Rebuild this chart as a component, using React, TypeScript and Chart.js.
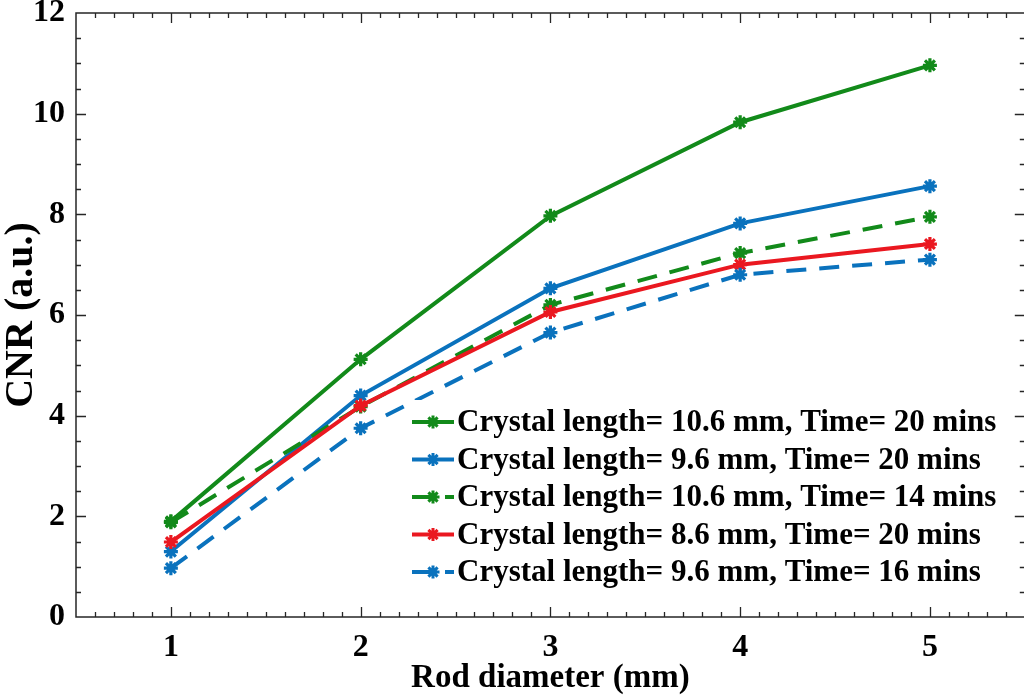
import React, { useEffect, useRef } from "react";
import { Chart, registerables } from "chart.js";

Chart.register(...registerables);

// ---- data ----
const rodDiameter = [1, 2, 3, 4, 5];
const cnrLen106Time20 = [1.9, 5.12, 7.97, 9.83, 10.96];
const cnrLen96Time20 = [1.3, 4.4, 6.53, 7.82, 8.56];
const cnrLen106Time14 = [1.88, 4.18, 6.2, 7.23, 7.95];
const cnrLen86Time20 = [1.49, 4.2, 6.06, 7.0, 7.41];
const cnrLen96Time16 = [0.97, 3.75, 5.65, 6.8, 7.1];

const seriesLabels = [
  "Crystal length= 10.6 mm, Time= 20 mins",
  "Crystal length= 9.6 mm, Time= 20 mins",
  "Crystal length= 10.6 mm, Time= 14 mins",
  "Crystal length= 8.6 mm, Time= 20 mins",
  "Crystal length= 9.6 mm, Time= 16 mins",
];
const seriesValues = [cnrLen106Time20, cnrLen96Time20, cnrLen106Time14, cnrLen86Time20, cnrLen96Time16];

const xTickValues = [1, 2, 3, 4, 5];
const yTickValues = [0, 2, 4, 6, 8, 10, 12];
const xTitle = "Rod diameter (mm)";
const yTitle = "CNR (a.u.)";

// ---- styles ----
const GREEN = "#128a1a";
const BLUE = "#0a72bd";
const RED = "#ea1820";
const seriesColors = [GREEN, BLUE, GREEN, RED, BLUE];
const DASH = [20, 13];
const seriesDash = [[], [], DASH, [], DASH];
const FONT = "'Liberation Serif', 'Times New Roman', serif";
const AXIS_COLOR = "#262626";

function drawStar(ctx: CanvasRenderingContext2D, x: number, y: number, r: number, color: string, w: number) {
  ctx.save();
  ctx.setLineDash([]);
  ctx.strokeStyle = color;
  ctx.lineWidth = w;
  ctx.beginPath();
  for (let k = 0; k < 4; k++) {
    const a = (k * Math.PI) / 4;
    ctx.moveTo(x - Math.cos(a) * r, y - Math.sin(a) * r);
    ctx.lineTo(x + Math.cos(a) * r, y + Math.sin(a) * r);
  }
  ctx.stroke();
  ctx.restore();
}

const framePlugin = {
  id: "frameTicks",
  beforeDatasetsDraw(chart: any) {
    const { ctx, chartArea } = chart;
    const { left, right, top, bottom } = chartArea;
    const xs = chart.scales.x;
    const ys = chart.scales.y;
    ctx.save();
    ctx.strokeStyle = AXIS_COLOR;
    ctx.lineWidth = 1.5;
    ctx.strokeRect(left, top, right - left, bottom - top);
    ctx.lineWidth = 1.3;
    ctx.beginPath();
    for (let i = Math.round(xs.min * 10) + 1; i < Math.round(xs.max * 10); i++) {
      const v = i / 10;
      const major = i % 10 === 0;
      const len = major ? 10 : 5;
      const px = Math.round(xs.getPixelForValue(v)) + 0.5;
      ctx.moveTo(px, bottom);
      ctx.lineTo(px, bottom - len);
      ctx.moveTo(px, top);
      ctx.lineTo(px, top + len);
    }
    for (let i = Math.round(ys.min * 2) + 1; i < Math.round(ys.max * 2); i++) {
      const v = i / 2;
      const major = i % 4 === 0;
      const len = major ? 10 : 5;
      const py = Math.round(ys.getPixelForValue(v)) + 0.5;
      ctx.moveTo(left, py);
      ctx.lineTo(left + len, py);
      ctx.moveTo(right, py);
      ctx.lineTo(right - len, py);
    }
    ctx.stroke();
    ctx.restore();
  },
};

const legendPlugin = {
  id: "boxLegend",
  afterDatasetsDraw(chart: any) {
    const { ctx } = chart;
    const boxL = 405;
    const boxT = 400;
    const boxR = 1012;
    const boxB = 595;
    ctx.save();
    ctx.fillStyle = "#ffffff";
    ctx.fillRect(boxL, boxT, boxR - boxL, boxB - boxT);
    ctx.font = `bold 31px ${FONT}`;
    ctx.textBaseline = "middle";
    ctx.textAlign = "left";
    chart.data.datasets.forEach((ds: any, i: number) => {
      const y = boxT + 22 + i * 37.5;
      ctx.save();
      ctx.strokeStyle = ds.borderColor;
      ctx.lineWidth = ds.borderWidth;
      ctx.setLineDash(ds.borderDash || []);
      ctx.beginPath();
      ctx.moveTo(412, y);
      ctx.lineTo(454, y);
      ctx.stroke();
      ctx.restore();
      drawStar(ctx, 433, y, 6.5, ds.borderColor, 3);
      ctx.fillStyle = "#000000";
      ctx.fillText(ds.label, 457, y + 1);
    });
    ctx.restore();
  },
};

export default function App() {
  const canvasRef = useRef<HTMLCanvasElement | null>(null);

  useEffect(() => {
    const canvas = canvasRef.current;
    if (!canvas) return;
    const datasets = seriesValues.map((vals, i) => ({
      label: seriesLabels[i],
      data: vals.map((v, j) => ({ x: rodDiameter[j], y: v })),
      borderColor: seriesColors[i],
      backgroundColor: seriesColors[i],
      borderWidth: 4,
      borderDash: seriesDash[i],
      pointStyle: "star" as const,
      pointRadius: 7,
      pointBorderWidth: 3.2,
      pointBorderColor: seriesColors[i],
      pointBackgroundColor: seriesColors[i],
      tension: 0,
      fill: false,
      order: seriesValues.length - i,
    }));

    const chart = new Chart(canvas, {
      type: "line",
      data: { datasets },
      options: {
        animation: false,
        responsive: false,
        devicePixelRatio: 1,
        layout: { padding: { top: 13, right: 1, left: 0, bottom: 0 } },
        plugins: { legend: { display: false }, tooltip: { enabled: false } },
        scales: {
          x: {
            type: "linear",
            min: 0.5,
            max: 5.5,
            afterBuildTicks: (s: any) => {
              s.ticks = xTickValues.map((v) => ({ value: v }));
            },
            afterFit: (s: any) => {
              s.height = 79;
              s.paddingLeft = 0;
              s.paddingRight = 0;
            },
            grid: { display: false, drawTicks: false, tickLength: 0 },
            border: { display: false },
            ticks: {
              color: "#000",
              font: { family: FONT, size: 32, weight: "bold" },
              padding: 12,
              maxRotation: 0,
              autoSkip: false,
            },
            title: {
              display: true,
              text: xTitle,
              color: "#000",
              font: { family: FONT, size: 33, weight: "bold" },
              padding: { top: 0, bottom: -2 },
            },
          },
          y: {
            type: "linear",
            min: 0,
            max: 12,
            afterBuildTicks: (s: any) => {
              s.ticks = yTickValues.map((v) => ({ value: v }));
            },
            afterFit: (s: any) => {
              s.width = 76;
              s.paddingTop = 0;
              s.paddingBottom = 0;
            },
            grid: { display: false, drawTicks: false, tickLength: 0 },
            border: { display: false },
            ticks: {
              color: "#000",
              font: { family: FONT, size: 32, weight: "bold" },
              padding: 11,
              autoSkip: false,
            },
            title: {
              display: true,
              text: yTitle,
              color: "#000",
              font: { family: FONT, size: 40, weight: "bold" },
              padding: { top: -2, bottom: 0 },
            },
          },
        },
      },
      plugins: [framePlugin, legendPlugin],
    });

    return () => chart.destroy();
  }, []);

  return (
    <div style={{ position: "fixed", left: 0, top: 0, width: 1024, height: 696, overflow: "hidden", background: "#fff" }}>
      <canvas ref={canvasRef} width={1035} height={696} style={{ display: "block" }} />
    </div>
  );
}
